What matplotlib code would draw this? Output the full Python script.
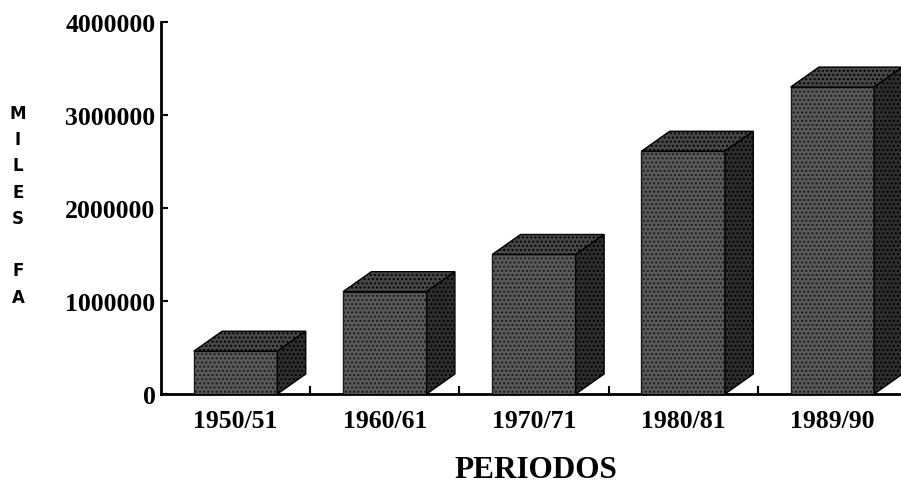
import matplotlib.pyplot as plt
from matplotlib.ticker import FixedLocator

periodos = ['1950/51', '1960/61', '1970/71', '1980/81', '1989/90']
miles_fa = [460000, 1100000, 1500000, 2610000, 3300000]
yticks = [0, 1000000, 2000000, 3000000, 4000000]

plt.rcParams['hatch.color'] = '#2a2a2a'

front_col = '#5a5a5a'
top_col = '#484848'
side_col = '#2f2f2f'
w = 0.56      # front face width
dx = 0.19     # depth offset (x, data units)
dy = 215000   # depth offset (y, data units)

fig = plt.figure(figsize=(9.01, 4.85), dpi=100)
ax = fig.add_axes([0.1787, 0.1856, 0.8213, 0.767])

xs = list(range(len(periodos)))
ax.bar(xs, miles_fa, width=w, color=front_col, edgecolor='#1a1a1a',
       linewidth=1.0, hatch='....', zorder=3)

# 3d top + side faces
for x, v in zip(xs, miles_fa):
    l, r = x - w / 2, x + w / 2
    ax.fill([l, l + dx, r + dx, r], [v, v + dy, v + dy, v],
            facecolor=top_col, edgecolor='black', linewidth=1.0, hatch='....', zorder=3)
    ax.fill([r, r + dx, r + dx, r], [0, dy, v + dy, v],
            facecolor=side_col, edgecolor='black', linewidth=1.0, hatch='....', zorder=3)

ax.set_xlim(-0.5, 4.46)
ax.set_ylim(0, 4000000)
ax.set_yticks(yticks)
ax.set_yticklabels([str(t) for t in yticks])
ax.set_xticks(xs)
ax.set_xticklabels(periodos)
ax.xaxis.set_minor_locator(FixedLocator([0.5, 1.5, 2.5, 3.5]))

ax.spines['top'].set_visible(False)
ax.spines['right'].set_visible(False)
ax.spines['left'].set_linewidth(2)
ax.spines['bottom'].set_linewidth(2)

ax.tick_params(axis='y', direction='in', length=5, width=1.5, pad=4)
ax.tick_params(axis='x', which='major', length=0, pad=11)
ax.tick_params(axis='x', which='minor', direction='in', length=6, width=1.5)

for lab in ax.get_yticklabels() + ax.get_xticklabels():
    lab.set_fontfamily('Liberation Serif')
    lab.set_fontweight('bold')
    lab.set_fontsize(18.5)

fig.text(0.595, 0.03, 'PERIODOS', ha='center', va='center',
         family='Liberation Serif', weight='bold', fontsize=22.5)
fig.text(0.02, 0.576, 'M\nI\nL\nE\nS\n\nF\nA', ha='center', va='center',
         family='DejaVu Sans', weight='bold', fontsize=12, linespacing=1.59)

fig.savefig('out.png', dpi=100, facecolor='white')
